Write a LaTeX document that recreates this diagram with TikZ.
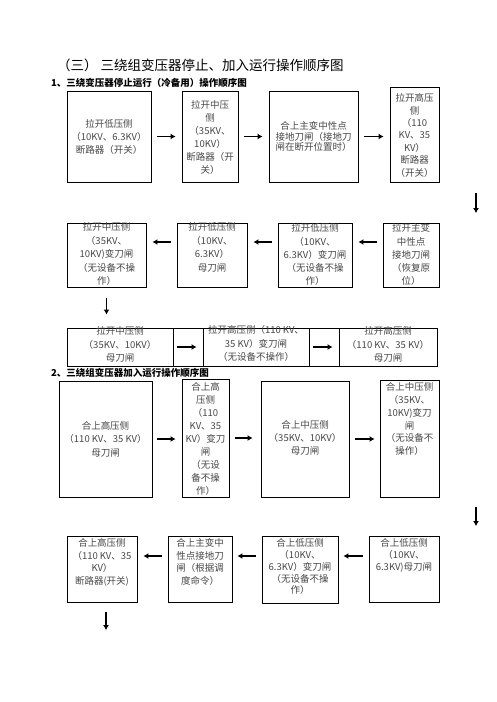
\documentclass[tikz,border=0pt]{standalone}
\usepackage{fontspec}
\setmainfont{Noto Sans CJK SC}
\usetikzlibrary{arrows.meta,fit,calc}
\tikzset{
  box/.style={draw, line width=0.9pt, inner sep=0pt},
  txt/.style={align=center, inner sep=0pt, text=black!72, font=\fontsize{9.5}{13}\selectfont},
  arr/.style={line width=1.5pt, -{Latex[length=5pt,width=6pt]}, shorten <=6pt, shorten >=6pt},
  ttl/.style={anchor=west, inner sep=0pt, font=\fontsize{13.5}{16}\selectfont},
  sub/.style={anchor=west, inner sep=0pt, font=\fontsize{9.5}{12}\selectfont\bfseries},
}
\begin{document}
\begin{tikzpicture}[x=1pt,y=-1pt]
\useasboundingbox[fill=white] (0,0) rectangle (496,702);

\node[ttl] (title) at (57,65) {（三） 三绕组变压器停止、加入运行操作顺序图};
\node[sub] (sub1) at (51,83) {1、三绕变压器停止运行（冷备用）操作顺序图};
\node[sub] (sub2) at (51,373) {2、三绕组变压器加入运行操作顺序图};

% Row 1
\node[box, fit={(67,91) (151,182)}] (A) {};
\node[txt] (tA) at (A) {拉开低压侧\\（10KV、6.3KV）\\断路器（开关）};
\node[box, fit={(182,91) (238,182)}] (B) {};
\node[txt, anchor=north] (tB) at (210,100.5) {拉开中压\\侧\\（35KV、\\10KV）\\断路器（开\\关）};
\node[box, fit={(269,91) (358,182)}] (C) {};
\node[txt, font=\fontsize{9.5}{10.8}\selectfont] (tC) at (C) {合上主变中性点\\接地刀闸（接地刀\\闸在断开位置时）};
\node[box, fit={(390,87) (439,182)}] (D) {};
\node[txt, anchor=north, font=\fontsize{9.5}{12.4}\selectfont] (tD) at (414.5,93.5) {拉开高压\\侧\\（110\\KV、35\\KV）\\断路器\\（开关）};

\draw[arr] (A.east) -- (B.west);
\draw[arr] (B.east) -- (C.west);
\draw[arr] (C.east) -- (C.east -| D.west);

\coordinate (d1s) at (476,193);
\coordinate (d1e) at (476,213);
\draw[arr, shorten <=0pt, shorten >=0pt] (d1s) -- (d1e);

% Row 2
\coordinate (r2) at (0,242);
\node[box, fit={(67,223) (146,287)}] (E) {};
\node[txt, anchor=north, font=\fontsize{9.5}{13.5}\selectfont] (tE) at (106.5,222.5) {拉开中压侧\\（35KV、\\10KV)变刀闸\\（无设备不操\\作）};
\node[box, fit={(177,223) (247,287)}] (F) {};
\node[txt, anchor=north, font=\fontsize{9.5}{13.5}\selectfont] (tF) at (212,222.5) {拉开低压侧\\（10KV、\\6.3KV）\\母刀闸};
\node[box, fit={(278,223) (352,287)}] (G) {};
\node[txt, anchor=north, font=\fontsize{9.5}{13.3}\selectfont] (tG) at (315,223.5) {拉开低压侧\\（10KV、\\6.3KV）变刀闸\\（无设备不操\\作）};
\node[box, fit={(383,223) (439,287)}] (H) {};
\node[txt, anchor=north, font=\fontsize{9.5}{13.3}\selectfont] (tH) at (411,223.5) {拉开主变\\中性点\\接地刀闸\\（恢复原\\位）};

\draw[arr] (H.west |- r2) -- (G.east |- r2);
\draw[arr] (G.west |- r2) -- (F.east |- r2);
\draw[arr] (F.west |- r2) -- (E.east |- r2);

% Row 3 (table)
\node[box, fit={(67,328) (173,366)}] (T1) {};
\node[box, fit={(173,328) (203,366)}] (Ta) {};
\node[box, fit={(203,328) (309,366)}] (T2) {};
\node[box, fit={(309,328) (339,366)}] (Tb) {};
\node[box, fit={(339,328) (437,366)}] (T3) {};
\node[txt, anchor=north, font=\fontsize{9.5}{13.5}\selectfont] (tT1) at (120,326.5) {拉开中压侧\\（35KV、10KV）\\母刀闸};
\node[txt, anchor=north, font=\fontsize{9.5}{13.5}\selectfont] (tT2) at (256,325.5) {拉开高压侧（110 KV、\\35 KV）变刀闸\\（无设备不操作）};
\node[txt, anchor=north, font=\fontsize{9.5}{13.5}\selectfont] (tT3) at (388,326.5) {拉开高压侧\\（110 KV、35 KV）\\母刀闸};
\draw[arr, shorten <=4pt] (T1.east) -- (T2.west);
\draw[arr, shorten <=4pt] (T2.east) -- (T3.west);

\draw[arr, shorten <=11pt, shorten >=13pt] (E.south) -- (E.south |- T1.north);

% Row 4
\node[box, fit={(59,381) (152,497)}] (I) {};
\node[txt, font=\fontsize{9.5}{13.5}\selectfont] (tI) at (105.5,439) {合上高压侧\\（110 KV、35 KV）\\母刀闸};
\node[box, fit={(182,379) (229,497)}] (J) {};
\node[txt, anchor=north] (tJ) at (205.5,382.5) {合上高\\压侧\\（110\\KV、35\\KV）变刀\\闸\\（无设\\备不操\\作）};
\node[box, fit={(261,381) (349,497)}] (K) {};
\node[txt] (tK) at (305,438) {合上中压侧\\（35KV、10KV）\\母刀闸};
\node[box, fit={(380,380) (439,497)}] (L) {};
\node[txt, anchor=north, font=\fontsize{9.5}{12.8}\selectfont] (tL) at (409.5,382.5) {合上中压侧\\（35KV、\\10KV)变刀\\闸\\（无设备不\\操作）};

\draw[arr, shorten <=5pt] (I.east) -- (I.east -| J.west);
\draw[arr, shorten >=8pt] (J.east) -- (J.east -| K.west);
\draw[arr, shorten >=5pt] (K.east) -- (K.east -| L.west);

\coordinate (d2s) at (476,507);
\coordinate (d2e) at (476,526);
\draw[arr, shorten <=0pt, shorten >=0pt] (d2s) -- (d2e);

% Row 5
\coordinate (r5) at (0,556);
\node[box, fit={(67,536) (137,602)}] (M) {};
\node[txt, anchor=north, font=\fontsize{9.5}{12.6}\selectfont] (tM) at (102,538.5) {合上高压侧\\（110 KV、35\\KV）\\断路器(开关)};
\node[box, fit={(168,536) (232,602)}] (N) {};
\node[txt, anchor=north, font=\fontsize{9.5}{12.6}\selectfont] (tN) at (200,538.5) {合上主变中\\性点接地刀\\闸（根据调\\度命令）};
\node[box, fit={(262,536) (338,603)}] (O) {};
\node[txt, anchor=north, font=\fontsize{9.5}{11.8}\selectfont] (tO) at (300,538.5) {合上低压侧\\（10KV、\\6.3KV）变刀闸\\（无设备不操\\作）};
\node[box, fit={(369,536) (439,602)}] (P) {};
\node[txt, anchor=north, font=\fontsize{9.5}{12}\selectfont] (tP) at (404,538.5) {合上低压侧\\（10KV、\\6.3KV)母刀闸};

\draw[arr, shorten >=5pt] (P.west |- r5) -- (O.east |- r5);
\draw[arr, shorten >=5pt] (O.west |- r5) -- (N.east |- r5);
\draw[arr] (N.west |- r5) -- (M.east |- r5);

\coordinate (d3s) at (106,612);
\coordinate (d3e) at (106,630);
\draw[arr, shorten <=0pt, shorten >=0pt] (d3s) -- (d3e);
\end{tikzpicture}
\end{document}
